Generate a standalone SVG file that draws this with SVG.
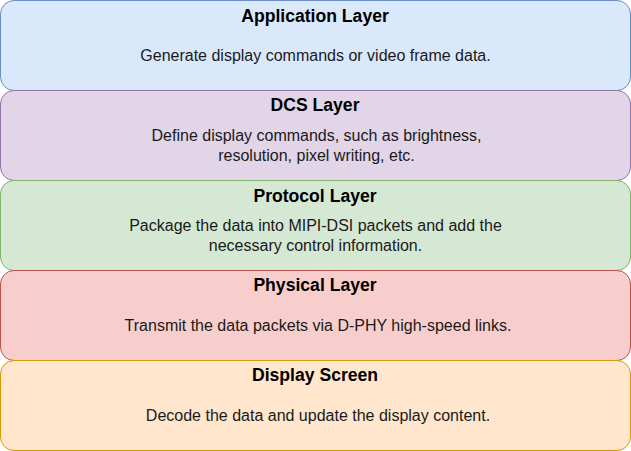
<svg xmlns="http://www.w3.org/2000/svg" width="631" height="451" viewBox="0 0 631 451">
<style>
.box{stroke-width:1}
.t{font-family:"Liberation Sans",Arial,sans-serif;font-size:17.6px;font-weight:bold;fill:#000;text-anchor:middle}
.d{font-family:"Liberation Sans",Arial,sans-serif;font-size:16px;fill:#1a1a1a;text-anchor:middle}
</style>
<rect width="631" height="451" fill="#fff"/>
<g id="application-layer">
<rect class="box" x="0.5" y="0.5" width="630" height="90" rx="13.5" fill="#dae8fc" stroke="#6c8ebf"/>
<text class="t" x="315" y="21.5">Application Layer</text>
<text class="d" x="315.5" y="60.5">Generate display commands or video frame data.</text>
</g>
<g id="dcs-layer">
<rect class="box" x="0.5" y="90.5" width="630" height="90" rx="13.5" fill="#e1d5e7" stroke="#9673a6"/>
<text class="t" x="315" y="111">DCS Layer</text>
<text class="d" x="316.5" y="141">Define display commands, such as brightness,</text>
<text class="d" x="316.5" y="161">resolution, pixel writing, etc.</text>
</g>
<g id="protocol-layer">
<rect class="box" x="0.5" y="180.5" width="630" height="90" rx="13.5" fill="#d5e8d4" stroke="#82b366"/>
<text class="t" x="315" y="201.5">Protocol Layer</text>
<text class="d" x="315.5" y="230.5">Package the data into MIPI-DSI packets and add the</text>
<text class="d" x="315.5" y="250.5">necessary control information.</text>
</g>
<g id="physical-layer">
<rect class="box" x="0.5" y="270.5" width="630" height="90" rx="13.5" fill="#f8cecc" stroke="#b85450"/>
<text class="t" x="315" y="291">Physical Layer</text>
<text class="d" x="318" y="330.5">Transmit the data packets via D-PHY high-speed links.</text>
</g>
<g id="display-screen">
<rect class="box" x="0.5" y="360.5" width="630" height="90" rx="13.5" fill="#ffe6cc" stroke="#d79b00"/>
<text class="t" x="315" y="381">Display Screen</text>
<text class="d" x="318" y="420.5">Decode the data and update the display content.</text>
</g>
<g id="connectors"></g>
</svg>
